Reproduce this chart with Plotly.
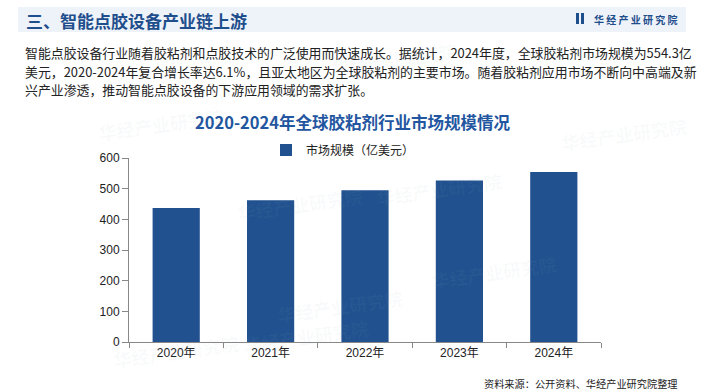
import plotly.graph_objects as go

# ---- data ----
years = ["2020年", "2021年", "2022年", "2023年", "2024年"]
market_size = [437, 462, 495, 527, 554.3]
series_name = "市场规模（亿美元）"
y_ticks = [0, 100, 200, 300, 400, 500, 600]

header_title = "三、智能点胶设备产业链上游"
brand = "华经产业研究院"
para_lines = [
    "智能点胶设备行业随着胶粘剂和点胶技术的广泛使用而快速成长。据统计，2024年度，全球胶粘剂市场规模为554.3亿",
    "美元，2020-2024年复合增长率达6.1%，且亚太地区为全球胶粘剂的主要市场。随着胶粘剂应用市场不断向中高端及新",
    "兴产业渗透，推动智能点胶设备的下游应用领域的需求扩张。",
]
chart_title = "2020-2024年全球胶粘剂行业市场规模情况"
source_text = "资料来源：公开资料、华经产业研究院整理"

W, H = 705, 392
L, R, T, B = 129, 601, 158, 342  # plot area in pixels


def px(x):
    return (x - L) / (R - L)


def py(y):
    return (B - y) / (B - T)


CJK = "Microsoft YaHei, Noto Sans CJK SC, sans-serif"
NUM = "Liberation Sans, Arial, Noto Sans CJK SC, sans-serif"
BAR_COLOR = "#21528F"
DARK_BLUE = "#1F4E8C"

fig = go.Figure()
fig.add_trace(go.Bar(
    x=years, y=market_size, name=series_name,
    marker=dict(color=BAR_COLOR, line=dict(width=0)),
    showlegend=True,
))

shapes = []
annotations = []

# header band
shapes.append(dict(type="rect", xref="paper", yref="paper",
                   x0=px(18), x1=px(686), y0=py(32), y1=py(7),
                   fillcolor="#EEF3FA", line=dict(width=0), layer="below"))
# logo icon
shapes.append(dict(type="rect", xref="paper", yref="paper",
                   x0=px(576), x1=px(579), y0=py(24), y1=py(13),
                   fillcolor=DARK_BLUE, line=dict(width=0)))
shapes.append(dict(type="rect", xref="paper", yref="paper",
                   x0=px(581), x1=px(584), y0=py(24), y1=py(13),
                   fillcolor=DARK_BLUE, line=dict(width=0)))

# watermarks (very faint)
wm = [(95, 100), (460, 35), (300, 180), (505, 165), (560, 272), (240, 360), (340, 330), (110, 375), (690, 110)]
for (wx, wy) in wm:
    annotations.append(dict(x=px(wx), y=py(wy), xref="paper", yref="paper",
                            text="<b>华经产业研究院</b>", showarrow=False,
                            textangle=-8,
                            font=dict(family=CJK, size=18, color="rgba(150,165,190,0.06)")))

annotations.append(dict(x=px(24), y=py(20), xref="paper", yref="paper",
                        xanchor="left", yanchor="middle", showarrow=False,
                        text="<b>" + header_title + "</b>",
                        font=dict(family=CJK, size=17, color=DARK_BLUE)))
annotations.append(dict(x=px(680), y=py(19), xref="paper", yref="paper",
                        xanchor="right", yanchor="middle", showarrow=False,
                        text="<b>" + " ".join(brand) + "</b>",
                        font=dict(family=CJK, size=10, color=DARK_BLUE)))

for i, (line, yy) in enumerate(zip(para_lines, [52, 71, 90])):
    annotations.append(dict(x=px(23), y=py(yy), xref="paper", yref="paper",
                            xanchor="left", yanchor="middle", showarrow=False,
                            text=line,
                            font=dict(family=CJK, size=12.9, color="#222222")))

annotations.append(dict(x=px(352), y=py(122), xref="paper", yref="paper",
                        xanchor="center", yanchor="middle", showarrow=False,
                        text="<b>" + chart_title + "</b>",
                        font=dict(family=CJK, size=16.5, color="#2356A0")))

annotations.append(dict(x=px(680), y=py(383), xref="paper", yref="paper",
                        xanchor="right", yanchor="middle", showarrow=False,
                        text=source_text,
                        font=dict(family=CJK, size=10.2, color="#222222")))

fig.update_layout(
    width=W, height=H,
    margin=dict(l=L, r=W - R, t=T, b=H - B, pad=0),
    paper_bgcolor="white", plot_bgcolor="white",
    bargap=0.5,
    shapes=shapes, annotations=annotations,
    showlegend=True,
    legend=dict(orientation="h", x=px(266), xanchor="left", y=py(150), yanchor="middle",
                font=dict(family=CJK, size=12, color="#222222"),
                bgcolor="rgba(0,0,0,0)", itemwidth=30),
    xaxis=dict(showline=True, linecolor="#888888", linewidth=1,
               ticks="outside", ticklen=5, tickcolor="#888888", tickson="boundaries",
               tickfont=dict(family=NUM, size=12, color="#222222"),
               showgrid=False, zeroline=False, fixedrange=True),
    yaxis=dict(range=[0, 600], tickvals=y_ticks, showline=True, linecolor="#888888", linewidth=1,
               ticks="outside", ticklen=6, tickcolor="#888888",
               tickfont=dict(family=NUM, size=12, color="#222222"),
               showgrid=False, zeroline=False, fixedrange=True),
)

fig.write_html("out.html", config={"displayModeBar": False},
               post_script="document.body.style.margin='0';document.body.style.overflow='hidden';")
